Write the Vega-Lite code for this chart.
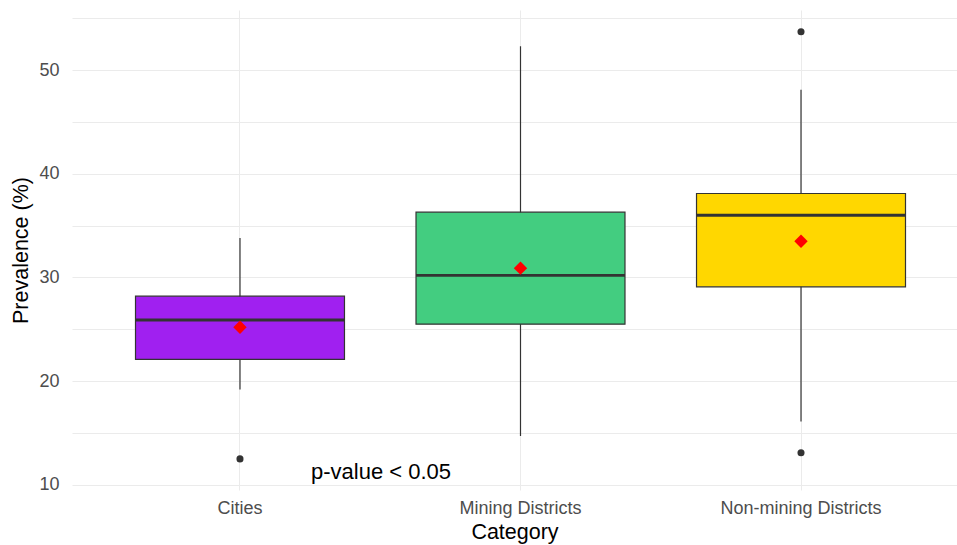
{
  "$schema": "https://vega.github.io/schema/vega-lite/v6.json",
  "autosize": "none",
  "width": 885,
  "height": 480,
  "padding": {"left": 72, "top": 10, "right": 0, "bottom": 55},
  "background": "white",
  "config": {
    "view": {"stroke": null},
    "font": "Liberation Sans",
    "axis": {"grid": true, "gridColor": "#EBEBEB", "gridWidth": 1, "domain": false, "ticks": false, "labelColor": "#4D4D4D", "labelFontSize": 18, "titleColor": "#000000", "titleFontSize": 21.5, "titleFontWeight": "normal", "labelFont": "Liberation Sans", "titleFont": "Liberation Sans"}
  },
  "datasets": {
    "boxes": [
      {"Category": "Cities", "lower": 19.2, "q1": 22.1, "median": 25.9, "q3": 28.2, "upper": 33.8, "mean": 25.2},
      {"Category": "Mining Districts", "lower": 14.7, "q1": 25.5, "median": 30.2, "q3": 36.3, "upper": 52.3, "mean": 30.9},
      {"Category": "Non-mining Districts", "lower": 16.1, "q1": 29.1, "median": 36.0, "q3": 38.1, "upper": 48.1, "mean": 33.5}
    ],
    "outliers": [
      {"Category": "Cities", "value": 12.5},
      {"Category": "Non-mining Districts", "value": 53.7},
      {"Category": "Non-mining Districts", "value": 13.1}
    ],
    "note": [
      {"Category": "Cities", "y": 11.2, "label": "p-value < 0.05"}
    ]
  },
  "layer": [
    {
      "data": {"name": "boxes"},
      "mark": {"type": "rule", "color": "#333333", "strokeWidth": 1.2},
      "encoding": {
        "x": {"field": "Category", "type": "nominal", "scale": {"domain": ["Cities", "Mining Districts", "Non-mining Districts"], "paddingInner": 0, "paddingOuter": 0.0775, "align": 0.638}, "axis": {"title": "Category", "labelPadding": 9, "titlePadding": 4, "labelAngle": 0, "bandPosition": 0.5}},
        "y": {"field": "lower", "type": "quantitative", "scale": {"domain": [9.5, 55.8], "nice": false, "zero": false}, "axis": {"title": "Prevalence (%)", "values": [10, 15, 20, 25, 30, 35, 40, 45, 50, 55], "labelExpr": "datum.value % 10 === 0 ? datum.label : ''", "labelPadding": 13, "titlePadding": 6}},
        "y2": {"field": "upper"}
      }
    },
    {
      "data": {"name": "boxes"},
      "mark": {"type": "bar", "stroke": "#333333", "strokeWidth": 1.2, "width": {"band": 0.745}},
      "encoding": {
        "x": {"field": "Category", "type": "nominal"},
        "y": {"field": "q1", "type": "quantitative"},
        "y2": {"field": "q3"},
        "fill": {"field": "Category", "type": "nominal", "scale": {"domain": ["Cities", "Mining Districts", "Non-mining Districts"], "range": ["#A020F0", "#43CD80", "#FFD700"]}, "legend": null}
      }
    },
    {
      "data": {"name": "boxes"},
      "mark": {"type": "tick", "color": "#333333", "thickness": 2.8, "size": 209, "opacity": 1},
      "encoding": {
        "x": {"field": "Category", "type": "nominal"},
        "y": {"field": "median", "type": "quantitative"}
      }
    },
    {
      "data": {"name": "outliers"},
      "mark": {"type": "circle", "color": "#333333", "size": 50, "opacity": 1},
      "encoding": {
        "x": {"field": "Category", "type": "nominal"},
        "y": {"field": "value", "type": "quantitative"}
      }
    },
    {
      "data": {"name": "boxes"},
      "mark": {"type": "point", "shape": "diamond", "filled": true, "color": "#FF0000", "size": 180, "opacity": 1},
      "encoding": {
        "x": {"field": "Category", "type": "nominal"},
        "y": {"field": "mean", "type": "quantitative"}
      }
    },
    {
      "data": {"name": "note"},
      "mark": {"type": "text", "fontSize": 22, "color": "#000000", "dx": 141, "align": "center", "baseline": "middle", "font": "Liberation Sans"},
      "encoding": {
        "x": {"field": "Category", "type": "nominal"},
        "y": {"field": "y", "type": "quantitative"},
        "text": {"field": "label"}
      }
    }
  ]
}
